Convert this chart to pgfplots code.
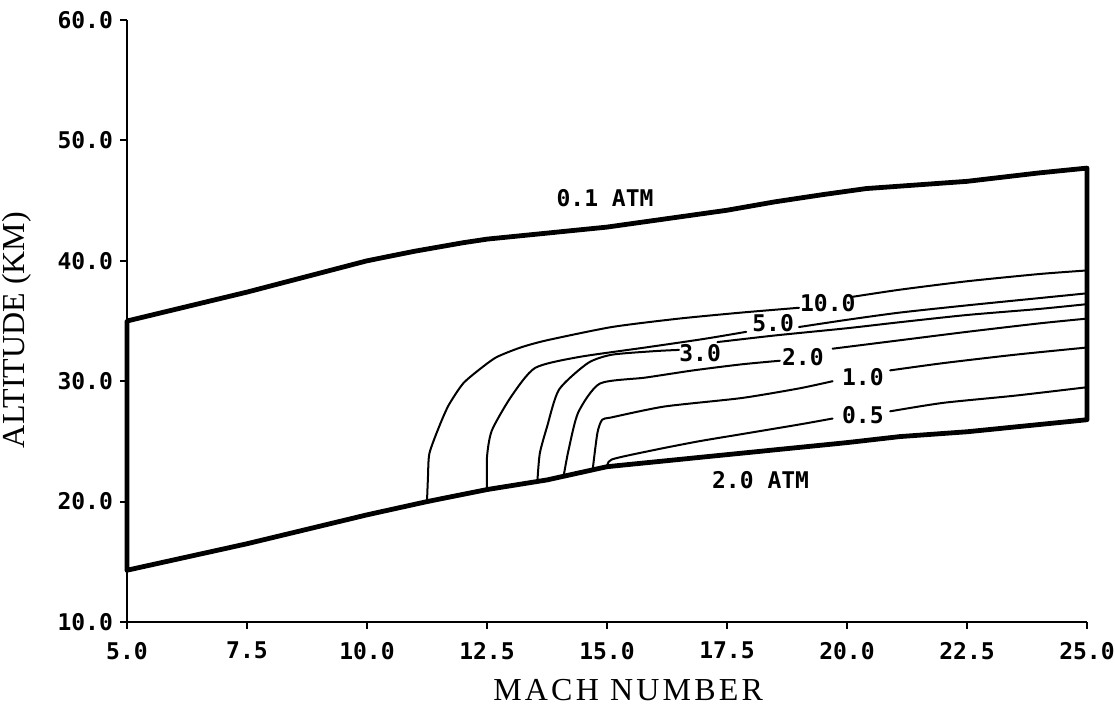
\documentclass[border=0pt]{standalone}
\usepackage{fontspec}
\setmainfont{Liberation Serif}
\newfontfamily\plotfont{DejaVu Sans Mono}
\usepackage{pgfplots}
\pgfplotsset{compat=1.18}

% Boundary of the operating corridor: 2.0 atm line, right edge, 0.1 atm line, left edge
\pgfplotstableread{
x y
5.0 14.3
6.25 15.4
7.5 16.5
8.75 17.7
10.0 18.9
11.25 20.0
12.5 21.0
13.75 21.8
15.0 22.9
16.25 23.4
17.5 23.9
18.75 24.4
20.0 24.9
21.1 25.4
22.5 25.8
24.0 26.4
25.0 26.8
25.0 47.7
24.0 47.3
22.5 46.6
21.1 46.2
20.4 46.0
19.5 45.5
18.5 44.9
17.5 44.2
16.25 43.5
15.0 42.8
13.75 42.3
12.5 41.8
12.0 41.5
11.0 40.8
10.0 40.0
8.75 38.7
7.5 37.4
6.25 36.2
5.0 35.0
5.0 14.3
}\corridor

\begin{document}
\begin{tikzpicture}
\begin{axis}[
  scale only axis, width=480pt, height=301pt,
  xmin=5, xmax=25, ymin=10, ymax=60,
  axis x line*=bottom, axis y line*=left,
  axis line style={line width=1pt},
  xtick={5,7.5,...,25}, ytick={10,20,...,60},
  tick align=outside, major tick length=3.5pt,
  tick style={line width=1pt, black},
  ticklabel style={font=\plotfont\bfseries\fontsize{11.5}{13}\selectfont},
  xticklabel style={yshift=-3pt},
  /pgf/number format/.cd, fixed, fixed zerofill, precision=1, assume math mode=true,
  /pgfplots/.cd,
  xlabel={\addfontfeature{LetterSpace=10}MACH NUMBER}, ylabel={ALTITUDE (KM)},
  xlabel style={font=\fontsize{16}{19}\selectfont, at={(axis description cs:0.522,-0.113)}, anchor=center},
  ylabel style={font=\fontsize{16}{19}\selectfont, at={(axis description cs:-0.092,0.485)}, anchor=south},
  clip=false,
  every axis plot/.append style={black, line join=round, line cap=round},
]
% corridor boundary
\addplot[line width=2.4pt] table {\corridor};

% contours (split where their labels sit)
\pgfplotsset{contour/.style={line width=1pt, smooth, tension=0.4}}
\addplot[contour] coordinates {(11.25,20.0) (11.27,22.0) (11.3,24.0) (11.5,26.2) (11.7,28.0) (12.0,29.8) (12.35,31.0) (12.7,32.0) (13.2,32.8) (13.75,33.4) (15.1,34.5) (16.5,35.2) (17.8,35.7) (19.0,36.1)};
\addplot[contour] coordinates {(20.1,37.0) (21.1,37.6) (22.5,38.3) (24.0,38.9) (25.0,39.2)};

\addplot[contour] coordinates {(12.5,21.0) (12.5,23.7) (12.6,25.9) (13.0,28.7) (13.5,31.1) (14.4,32.0) (15.8,32.8) (17.0,33.5) (17.9,34.1)};
\addplot[contour] coordinates {(19.0,34.5) (20.0,35.1) (21.1,35.7) (22.5,36.3) (24.0,36.9) (25.0,37.3)};

\addplot[contour] coordinates {(13.55,21.7) (13.6,24.0) (13.75,26.2) (14.0,29.3) (14.6,31.5) (15.1,32.2) (16.0,32.5) (16.5,32.6)};
\addplot[contour] coordinates {(17.3,33.25) (18.5,33.8) (20.0,34.4) (21.1,34.9) (22.5,35.5) (24.0,36.0) (25.0,36.4)};

\addplot[contour] coordinates {(14.1,22.2) (14.2,24.3) (14.4,27.4) (14.85,29.8) (15.8,30.3) (16.8,30.9) (17.8,31.4) (18.6,31.7)};
\addplot[contour] coordinates {(19.7,32.7) (21.1,33.4) (22.5,34.1) (24.0,34.8) (25.0,35.2)};

\addplot[contour] coordinates {(14.7,22.6) (14.8,25.7) (14.9,26.8) (15.1,27.0) (16.2,27.9) (17.8,28.6) (19.0,29.4) (19.7,30.0)};
\addplot[contour] coordinates {(20.9,30.9) (22.0,31.5) (23.5,32.2) (25.0,32.8)};

\addplot[contour] coordinates {(15.0,22.8) (15.1,23.5) (16.0,24.3) (16.9,25.0) (17.8,25.6) (19.0,26.4) (19.7,26.9)};
\addplot[contour] coordinates {(20.9,27.5) (22.0,28.2) (23.5,28.8) (25.0,29.5)};

% contour and boundary labels
\begin{scope}[every node/.style={font=\plotfont\bfseries\fontsize{11.5}{13}\selectfont, inner sep=0pt}]
\node at (axis cs:19.6,36.5) {10.0};
\node at (axis cs:18.46,34.8) {5.0};
\node at (axis cs:16.94,32.3) {3.0};
\node at (axis cs:19.08,32.0) {2.0};
\node at (axis cs:20.33,30.35) {1.0};
\node at (axis cs:20.33,27.2) {0.5};
\node at (axis cs:14.96,45.2) {0.1 ATM};
\node at (axis cs:18.2,21.8) {2.0 ATM};
\end{scope}
\end{axis}
\pgfresetboundingbox
\path (current axis.south west) ++(-63.5pt,-43.5pt) rectangle ++(557.5pt,354.5pt);
\end{tikzpicture}
\end{document}
